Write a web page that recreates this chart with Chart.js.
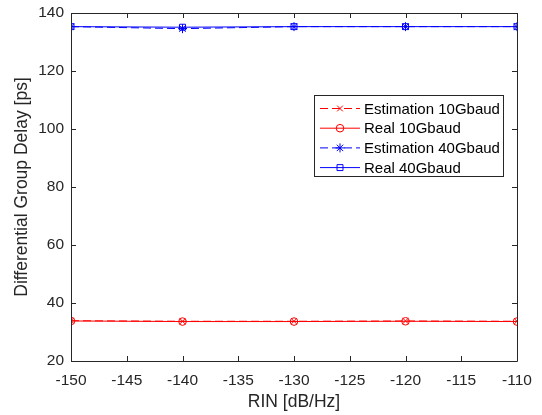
<!DOCTYPE html>
<html>
<head>
<meta charset="utf-8">
<script src="https://cdn.jsdelivr.net/npm/chart.js@4.4.1/dist/chart.umd.min.js"></script>
<style>
html,body{margin:0;padding:0;background:#fff;}
#wrap{width:542px;height:415px;}
</style>
</head>
<body>
<div id="wrap"><canvas id="c" width="542" height="415"></canvas></div>
<script>
const rinValues = [-150, -140, -130, -120, -110];
const est10 = [33.9, 33.7, 33.7, 33.8, 33.7];
const real10 = [33.8, 33.6, 33.6, 33.7, 33.6];
const est40 = [135.3, 134.6, 135.3, 135.3, 135.3];
const real40 = [135.3, 135.1, 135.3, 135.3, 135.3];
const seriesLabels = ['Estimation 10Gbaud', 'Real 10Gbaud', 'Estimation 40Gbaud', 'Real 40Gbaud'];
const xTitle = 'RIN [dB/Hz]';
const yTitle = 'Differential Group Delay [ps]';

const FONT = '"Liberation Sans", Arial, Helvetica, sans-serif';
const AX = '#262626';

function pts(vals) { return rinValues.map((x, i) => ({x: x, y: vals[i]})); }

const boxTicks = {
  id: 'boxTicks',
  afterDatasetsDraw(chart) {
    const ctx = chart.ctx, a = chart.chartArea;
    const xs = chart.scales.x, ys = chart.scales.y;
    ctx.save();
    ctx.strokeStyle = AX;
    ctx.lineWidth = 1;
    ctx.beginPath();
    ctx.rect(Math.round(a.left) + 0.5, Math.round(a.top) + 0.5, Math.round(a.right - a.left), Math.round(a.bottom - a.top));
    ctx.stroke();
    const tl = 5;
    ctx.beginPath();
    xs.ticks.forEach(t => {
      const px = Math.round(xs.getPixelForValue(t.value)) + 0.5;
      ctx.moveTo(px, a.bottom); ctx.lineTo(px, a.bottom - tl);
      ctx.moveTo(px, a.top); ctx.lineTo(px, a.top + tl);
    });
    ys.ticks.forEach(t => {
      const py = Math.round(ys.getPixelForValue(t.value)) + 0.5;
      ctx.moveTo(a.left, py); ctx.lineTo(a.left + tl, py);
      ctx.moveTo(a.right, py); ctx.lineTo(a.right - tl, py);
    });
    ctx.stroke();
    ctx.restore();
  },
  afterDraw(chart) {
    // legend inside the plot (north-east)
    const ctx = chart.ctx;
    const bx = 314.5, by = 95.5, bw = 189, bh = 81;
    ctx.save();
    ctx.fillStyle = '#fff';
    ctx.fillRect(bx, by, bw, bh);
    ctx.strokeStyle = AX;
    ctx.lineWidth = 1;
    ctx.strokeRect(bx, by, bw, bh);
    ctx.font = '15px ' + FONT;
    ctx.textBaseline = 'middle';
    ctx.textAlign = 'left';
    chart.data.datasets.forEach((ds, i) => {
      const cy = 108.5 + i * 19.7;
      ctx.strokeStyle = ds.borderColor;
      ctx.lineWidth = 1;
      ctx.setLineDash(ds.borderDash || []);
      ctx.beginPath();
      ctx.moveTo(320, cy); ctx.lineTo(360, cy);
      ctx.stroke();
      ctx.setLineDash([]);
      ctx.fillStyle = 'rgba(0,0,0,0)';
      Chart.helpers.drawPoint(ctx, {pointStyle: ds.pointStyle, radius: ds.pointRadius, rotation: 0, borderWidth: 1}, 340, cy);
      ctx.fillStyle = '#000';
      ctx.fillText(ds.label, 364, cy + 1);
    });
    ctx.restore();
  }
};

new Chart(document.getElementById('c'), {
  type: 'line',
  data: {
    datasets: [
      {label: seriesLabels[0], data: pts(est10), borderColor: '#ff0000', backgroundColor: 'rgba(0,0,0,0)', borderDash: [8, 4], borderWidth: 1, pointStyle: 'crossRot', pointRadius: 4, pointBorderWidth: 1, pointBorderColor: '#ff0000', order: 4},
      {label: seriesLabels[1], data: pts(real10), borderColor: '#ff0000', backgroundColor: 'rgba(0,0,0,0)', borderWidth: 1, pointStyle: 'circle', pointRadius: 3.8, pointBorderWidth: 1, pointBorderColor: '#ff0000', order: 3},
      {label: seriesLabels[2], data: pts(est40), borderColor: '#0000ff', backgroundColor: 'rgba(0,0,0,0)', borderDash: [8, 4], borderWidth: 1, pointStyle: 'star', pointRadius: 4.5, pointBorderWidth: 1, pointBorderColor: '#0000ff', order: 2},
      {label: seriesLabels[3], data: pts(real40), borderColor: '#0000ff', backgroundColor: 'rgba(0,0,0,0)', borderWidth: 1, pointStyle: 'rect', pointRadius: 4.2, pointBorderWidth: 1, pointBorderColor: '#0000ff', order: 1}
    ]
  },
  options: {
    responsive: false,
    animation: false,
    devicePixelRatio: 1,
    layout: {padding: {left: 0, right: 25, top: 13, bottom: 0}},
    plugins: {legend: {display: false}, tooltip: {enabled: false}},
    elements: {line: {tension: 0}},
    scales: {
      x: {
        type: 'linear', min: -150, max: -110,
        grid: {display: false, drawTicks: false}, border: {display: false},
        ticks: {stepSize: 5, color: AX, padding: 10, maxRotation: 0, autoSkip: false, font: {family: FONT, size: 15.5}},
        title: {display: true, text: xTitle, color: AX, font: {family: FONT, size: 17.5}, padding: {top: 0, bottom: 2}},
        afterFit(s) { s.height = 54; s.paddingLeft = 0; s.paddingRight = 0; }
      },
      y: {
        min: 20, max: 140,
        grid: {display: false, drawTicks: false}, border: {display: false},
        ticks: {stepSize: 20, color: AX, padding: 7, font: {family: FONT, size: 15.5}},
        title: {display: true, text: yTitle, color: AX, font: {family: FONT, size: 17.5}, padding: {top: 12, bottom: 0}},
        afterFit(s) { s.width = 71; s.paddingTop = 0; s.paddingBottom = 0; }
      }
    }
  },
  plugins: [boxTicks]
});
</script>
</body>
</html>
